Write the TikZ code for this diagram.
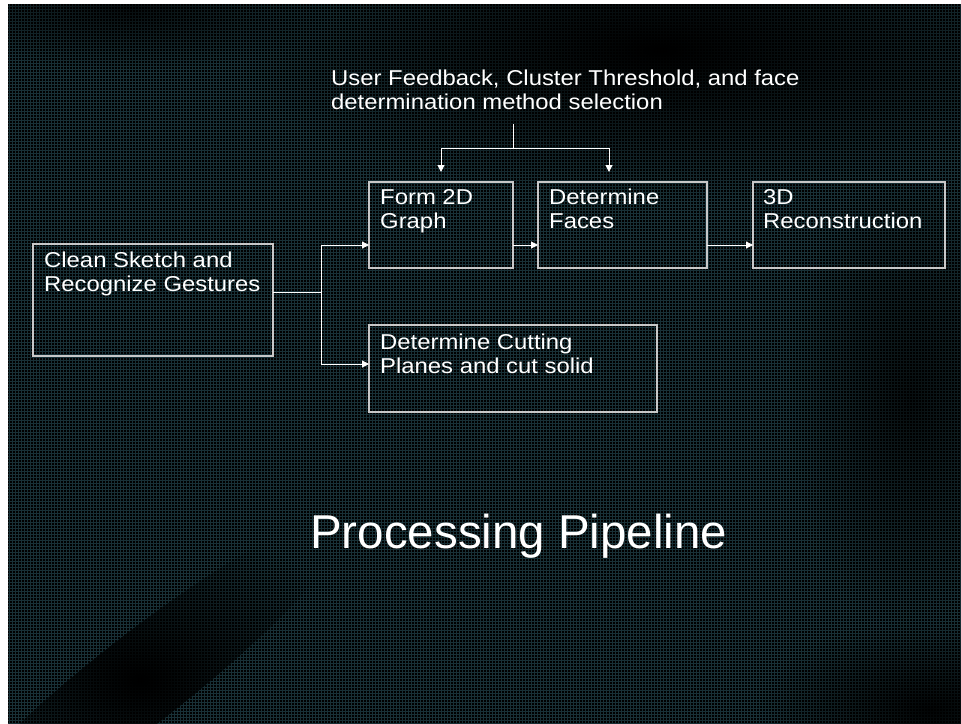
\documentclass[tikz,border=0pt]{standalone}
\usepackage{fontspec}
\setmainfont{Liberation Sans}
\newfontfamily\slidefont[FakeStretch=1.11]{Liberation Sans}
\usetikzlibrary{arrows.meta,positioning,fadings}
\definecolor{boxgray}{RGB}{200,200,200}
\definecolor{weave}{RGB}{24,48,54}
\tikzfading[name=softblob,inner color=transparent!0,outer color=transparent!100]

\tikzset{
	stage/.style={draw=boxgray,line width=1.4pt,anchor=north west,inner sep=0pt,outer sep=0pt},
	stagetext/.style={anchor=north west,inner sep=0pt,align=left,text=white,
		font=\slidefont\fontsize{21.5}{24}\selectfont,execute at begin node={\rule{0pt}{17pt}}},
	link/.style={white,line width=1pt},
	flow/.style={link,-{Triangle[length=7pt,width=7pt]}},
	shadowblob/.style={fill=black,path fading=softblob}
}

\begin{document}
\begin{tikzpicture}[x=1pt,y=1pt]
		\useasboundingbox (0,0) rectangle (961,-723);
		% backdrop
		\fill[white] (0,0) rectangle (961,-723);
		\fill[black] (8,-4) rectangle (961,-723);
		\begin{scope}
			\clip (8,-4) rectangle (961,-723);
			\draw[weave,line width=0.7pt,step=3pt] (8,-4) grid (961,-723);
			\fill[shadowblob] (660,-50) ellipse [x radius=420,y radius=150];
			\fill[shadowblob,opacity=0.7] (130,-10) ellipse [x radius=200,y radius=60];
			\fill[shadowblob,rotate around={38:(140,-680)}] (140,-680) ellipse [x radius=260,y radius=45];
			\fill[shadowblob,opacity=0.9] (930,-710) ellipse [x radius=170,y radius=90];
			\fill[shadowblob,opacity=0.7] (910,-400) ellipse [x radius=120,y radius=230];
		\end{scope}
		
		\node[stage,minimum width=240pt,minimum height=112pt] (sketch) at (33,-244) {};
		\node[stage,minimum width=144pt,minimum height=86pt] (graph) at (369,-182) {};
		\node[stage,minimum width=169pt,minimum height=86pt] (faces) at (538,-182) {};
		\node[stage,minimum width=192pt,minimum height=86pt] (recon) at (753,-182) {};
		\node[stage,minimum width=288pt,minimum height=87pt] (cutting) at (369,-325) {};
		
		\node[stagetext,below right=8pt and 11pt of sketch.north west] (sketchtext) {Clean Sketch and\\Recognize Gestures};
		\node[stagetext,below right=7pt and 11pt of graph.north west] (graphtext) {Form 2D\\Graph};
		\node[stagetext,below right=7pt and 11pt of faces.north west] (facestext) {Determine\\Faces};
		\node[stagetext,below right=7pt and 10pt of recon.north west] (recontext) {3D\\Reconstruction};
		\node[stagetext,below right=9pt and 11pt of cutting.north west] (cuttingtext) {Determine Cutting\\Planes and cut solid};
		\node[stagetext] (feedback) at (331,-70) {User Feedback, Cluster Threshold, and face\\determination method selection};
		
		\coordinate (split) at (321,-292);
		\coordinate (row) at (0,-245);
		\coordinate (cutrow) at (0,-364);
		\draw[link] (sketch.east |- split) -- (split);
		\draw[flow] (split) |- (graph.west |- row);
		\draw[flow] (split) |- (cutting.west |- cutrow);
		\draw[flow] (graph.east |- row) -- (faces.west |- row);
		\draw[flow] (faces.east |- row) -- (recon.west |- row);
		
		\coordinate (fbtop) at (513,-124);
		\coordinate (fbsplit) at (513,-148);
		\draw[link] (fbtop) -- (fbsplit);
		\draw[flow] (fbsplit) -| ([yshift=10pt]graph.north);
		\draw[flow] (fbsplit) -| ([xshift=-13.5pt,yshift=10pt]faces.north);
		
		\node[text=white,font=\fontsize{47.5}{52}\selectfont,anchor=base west,inner sep=0pt] (title) at (310,-548) {Processing Pipeline};
	\end{tikzpicture}
\end{document}
